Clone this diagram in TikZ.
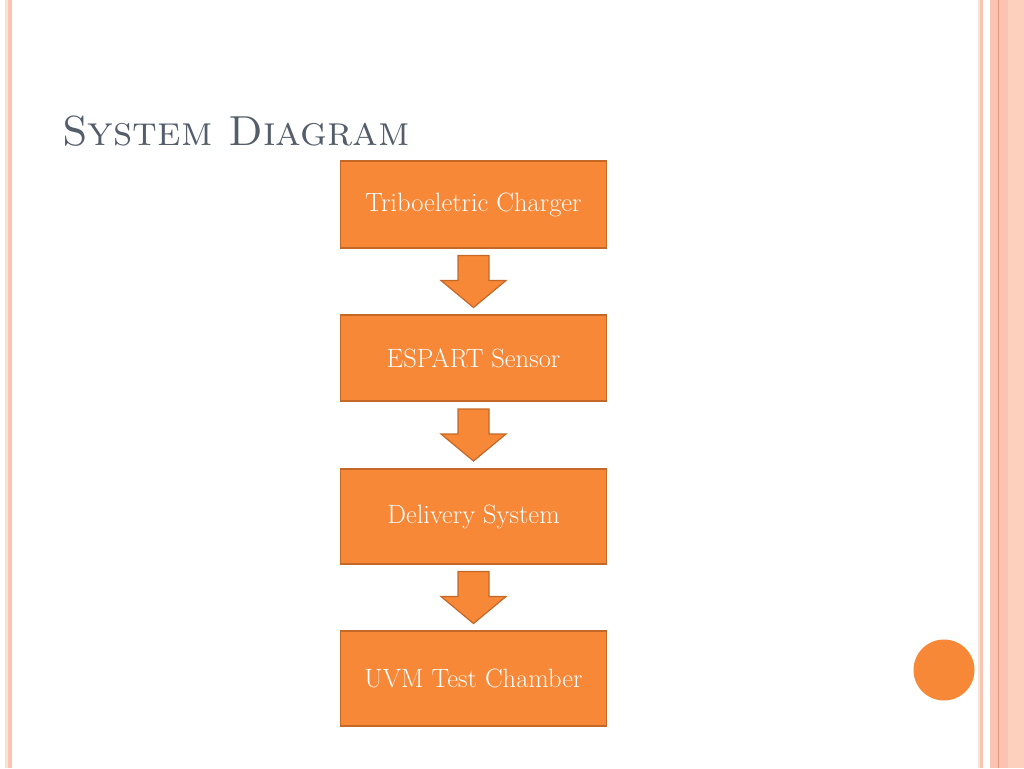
\documentclass[tikz,border=0pt]{standalone}
\usepackage{amssymb,amsmath}
\usepackage{fontspec}
\usepackage{tikz}
\usetikzlibrary{calc}

\definecolor{boxorange}{RGB}{246,136,56}
\definecolor{boxedge}{RGB}{196,104,40}
\definecolor{titlegrey}{RGB}{84,94,107}
\definecolor{stripe}{RGB}{251,196,178}
\definecolor{stripelight}{RGB}{253,208,190}
\definecolor{stripepale}{RGB}{248,228,214}
\definecolor{stripedark}{RGB}{228,150,118}

\begin{document}
\begin{tikzpicture}[x=1pt, y=-1pt,
    block/.style={shape=rectangle, draw=boxedge, line width=1.5pt, fill=boxorange, text=white, minimum width=266pt, font=\fontsize{26.5}{30}\selectfont},
    flow/.style={draw=boxedge, line width=1.2pt, fill=boxorange, line join=miter}]
    \useasboundingbox (0,0) rectangle (1024,768);
    % slide border stripes
    \fill[stripepale] (5,0) rectangle (7.5,768);
    \fill[stripe] (8,0) rectangle (12,768);
    \fill[stripepale] (978,0) rectangle (979.5,768);
    \fill[stripe] (979.5,0) rectangle (983,768);
    \fill[stripe] (990,0) rectangle (1008,768);
    \fill[stripelight] (1008,0) rectangle (1024,768);
    \draw[stripedark, line width=0.8pt] (998,0) -- (998,768);
    % title
    \node[anchor=base west, text=titlegrey, font=\fontsize{42}{48}\selectfont, inner sep=0pt] at (62,145) (title) {\textsc{System Diagram}};
    % blocks
    \node[block, minimum height=87pt] at (473.5,204.5) (TC) {Triboeletric Charger};
    \node[block, minimum height=86pt] at (473.5,358) (ES) {ESPART Sensor};
    \node[block, minimum height=95pt] at (473.5,516.5) (DS) {Delivery System};
    \node[block, minimum height=95pt] at (473.5,678.5) (UC) {UVM Test Chamber};
    % block arrows between the blocks
    \foreach \a/\b in {TC/ES, ES/DS, DS/UC}
        \draw[flow] ($(\a.south)!0.5!(\b.north)$) ++(-15.5,-26) -- ++(31,0) -- ++(0,25)
            -- ++(17,0) -- ++(-32.5,27) -- ++(-32.5,-27) -- ++(17,0) -- cycle;
    % corner dot
    \fill[boxorange] (944,670) circle (30.5pt);
\end{tikzpicture}
\end{document}
